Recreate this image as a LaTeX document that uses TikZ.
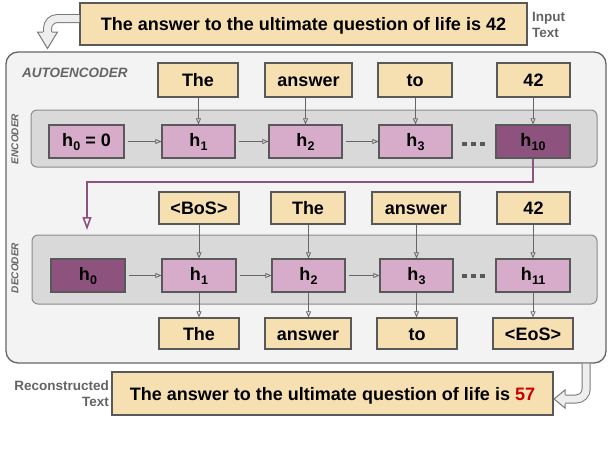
\documentclass[tikz,border=0pt]{standalone}
\usepackage{fontspec}
\setmainfont{Liberation Sans}
\usetikzlibrary{arrows.meta}
\definecolor{tanc}{RGB}{246,224,178}
\definecolor{boxborder}{RGB}{89,89,89}
\definecolor{hlight}{RGB}{214,172,202}
\definecolor{hdark}{RGB}{142,82,126}
\definecolor{panelfill}{RGB}{243,243,243}
\definecolor{panelborder}{RGB}{102,102,102}
\definecolor{innerfill}{RGB}{217,217,217}
\definecolor{innerborder}{RGB}{140,140,140}
\definecolor{lblgray}{RGB}{100,100,100}
\definecolor{connc}{RGB}{102,102,102}
\definecolor{redc}{RGB}{204,0,0}
\definecolor{fatfill}{RGB}{238,238,238}
\definecolor{fatborder}{RGB}{120,120,120}
\newcommand\hsx[1]{h\kern0.3pt\raisebox{-4.5pt}{\fontsize{12.5}{12}\selectfont #1}}
\tikzset{
  tok/.style={draw=boxborder, fill=tanc, line width=1.2pt, inner sep=0pt,
    text height=13pt, text depth=0pt,
    font=\bfseries\fontsize{18}{20}\selectfont},
  hid/.style={draw=boxborder, fill=hlight, line width=1.2pt, inner sep=0pt,
    text height=13pt, text depth=4pt,
    minimum height=33pt, font=\bfseries\fontsize{18}{20}\selectfont},
  hdk/.style={hid, fill=hdark},
  conn/.style={draw=connc, line width=0.8pt, -{Triangle[open, length=6pt, width=5pt]}},
  hconn/.style={conn, shorten <=3pt},
  purp/.style={draw=hdark, line width=2pt, -{Triangle[open, length=13pt, width=9pt, line width=1.6pt]}},
  sidelbl/.style={text=lblgray, font=\bfseries\fontsize{13.5}{16}\selectfont, inner sep=0pt},
  seclbl/.style={text=lblgray, font=\bfseries\itshape\fontsize{10}{12}\selectfont, inner sep=0pt},
  panelst/.style={draw=panelborder, fill=panelfill, line width=1.3pt, rounded corners=12pt, inner sep=0pt},
  innerst/.style={draw=innerborder, fill=innerfill, line width=1pt, rounded corners=6pt, inner sep=0pt},
  fatshaft/.style={draw=fatborder, line width=1pt, double=fatfill, double distance=7pt, rounded corners=10pt},
  headfill/.style={fill=fatfill},
  headline/.style={draw=fatborder, line width=1pt, line join=miter},
  dotst/.style={fill=boxborder},
}
\begin{document}
\begin{tikzpicture}[x=1pt,y=-1pt]
\fill[white] (0,0) rectangle (608,448);
\useasboundingbox (0,0) rectangle (608,448);

% input text
\node[tok, minimum width=447pt, minimum height=42pt] (inp) at (303.5,24) {The answer to the ultimate question of life is 42};
\node[sidelbl, anchor=west, align=left] (inlbl) at (532,25) {Input\\Text};

% autoencoder panel
\node[panelst, minimum width=600pt, minimum height=311pt] (ae) at (306,207.5) {};
\node[text=lblgray, font=\bfseries\itshape\fontsize{13.5}{16}\selectfont, inner sep=0pt, anchor=west] (aelbl) at (22,73) {AUTOENCODER};

% fat arrow in
\draw[fatshaft] ([yshift=5.5pt]inp.west) -| (47.5,32);
\coordinate (tipA) at (47.5,48.5);
\fill[headfill] (37.5,32) -- (57.5,32) -- (tipA) -- cycle;
\draw[headline] (43,32) -- (37.5,32) -- (tipA) -- (57.5,32) -- (52,32);

% encoder
\node[innerst, minimum width=566pt, minimum height=57pt] (encp) at (314,138.5) {};
\node[seclbl, rotate=90] (enclbl) at (15,139) {ENCODER};

\node[tok, minimum width=80pt, minimum height=34pt] (et1) at (198,80) {The};
\node[tok, minimum width=87pt, minimum height=34pt] (et2) at (308.5,80) {answer};
\node[tok, minimum width=74pt, minimum height=34pt] (et3) at (415,80) {to};
\node[tok, minimum width=73pt, minimum height=34pt] (et4) at (533.5,80) {42};

\node[hid, minimum width=75pt] (eh0) at (86.5,141.5) {\hsx{0} = 0};
\node[hid, minimum width=73pt] (eh1) at (198.5,141.5) {\hsx{1}};
\node[hid, minimum width=73pt] (eh2) at (305.5,141.5) {\hsx{2}};
\node[hid, minimum width=73pt] (eh3) at (415.5,141.5) {\hsx{3}};
\node[hdk, minimum width=74pt] (eh10) at (533,141.5) {\hsx{10}};

\foreach \xx in {464.5,473.5,482.5} \fill[dotst] (\xx-2.3,144-2.3) rectangle (\xx+2.3,144+2.3);

\draw[conn] (et1.south -| eh1.north) -- (eh1.north);
\draw[conn] (et2.south -| eh2.north) -- (eh2.north);
\draw[conn] (et3.south -| eh3.north) -- (eh3.north);
\draw[conn] (et4.south -| eh10.north) -- (eh10.north);
\draw[hconn] (eh0) -- (eh1);
\draw[hconn] (eh1) -- (eh2);
\draw[hconn] (eh2) -- (eh3);

% purple link
\coordinate (dtip) at (87,230);
\draw[purp] (eh10.south) -- ++(0,23) -| (dtip);

% decoder
\node[innerst, minimum width=565pt, minimum height=69pt] (decp) at (314.5,269.5) {};
\node[seclbl, rotate=90] (declbl) at (15,268) {DECODER};

\node[tok, minimum width=80pt, minimum height=32pt] (dt1) at (199,208) {<BoS>};
\node[tok, minimum width=74pt, minimum height=32pt] (dt2) at (308,208) {The};
\node[tok, minimum width=88pt, minimum height=32pt] (dt3) at (416,208) {answer};
\node[tok, minimum width=73pt, minimum height=32pt] (dt4) at (533.5,208) {42};

\node[hdk, minimum width=74pt] (dh0) at (88,275.5) {\hsx{0}};
\node[hid, minimum width=74pt] (dh1) at (199,275.5) {\hsx{1}};
\node[hid, minimum width=73pt] (dh2) at (308.5,275.5) {\hsx{2}};
\node[hid, minimum width=73pt] (dh3) at (416.5,275.5) {\hsx{3}};
\node[hid, minimum width=74pt] (dh11) at (533,275.5) {\hsx{11}};

\foreach \xx in {464.5,473.5,482.5} \fill[dotst] (\xx-2.3,276-2.3) rectangle (\xx+2.3,276+2.3);

\node[tok, minimum width=80pt, minimum height=31pt] (ot1) at (199,333.5) {The};
\node[tok, minimum width=86pt, minimum height=31pt] (ot2) at (308,333.5) {answer};
\node[tok, minimum width=80pt, minimum height=31pt] (ot3) at (417,333.5) {to};
\node[tok, minimum width=80pt, minimum height=31pt] (ot4) at (533,333.5) {<EoS>};

\draw[conn] (dt1.south -| dh1.north) -- (dh1.north);
\draw[conn] (dt2.south -| dh2.north) -- (dh2.north);
\draw[conn] (dt3.south -| dh3.north) -- (dh3.north);
\draw[conn] (dt4.south -| dh11.north) -- (dh11.north);
\draw[hconn] (dh0) -- (dh1);
\draw[hconn] (dh1) -- (dh2);
\draw[hconn] (dh2) -- (dh3);
\draw[conn] (dh1.south) -- (dh1.south |- ot1.north);
\draw[conn] (dh2.south) -- (dh2.south |- ot2.north);
\draw[conn] (dh3.south) -- (dh3.south |- ot3.north);
\draw[conn] (dh11.south) -- (dh11.south |- ot4.north);

% output text
\node[tok, minimum width=441pt, minimum height=43pt] (outp) at (332.5,393.5) {The answer to the ultimate question of life is \textcolor{redc}{57}};
\node[sidelbl, anchor=east, align=right] (outlbl) at (109,394) {Reconstructed\\Text};

% fat arrow out
\draw[fatshaft] ([xshift=-20.5pt]ae.south east) |- (565,399);
\coordinate (tipB) at (554,399);
\fill[headfill] (565,390) -- (565,408) -- (tipB) -- cycle;
\draw[headline] (565,394.5) -- (565,390) -- (tipB) -- (565,408) -- (565,403.5);
\end{tikzpicture}
\end{document}
